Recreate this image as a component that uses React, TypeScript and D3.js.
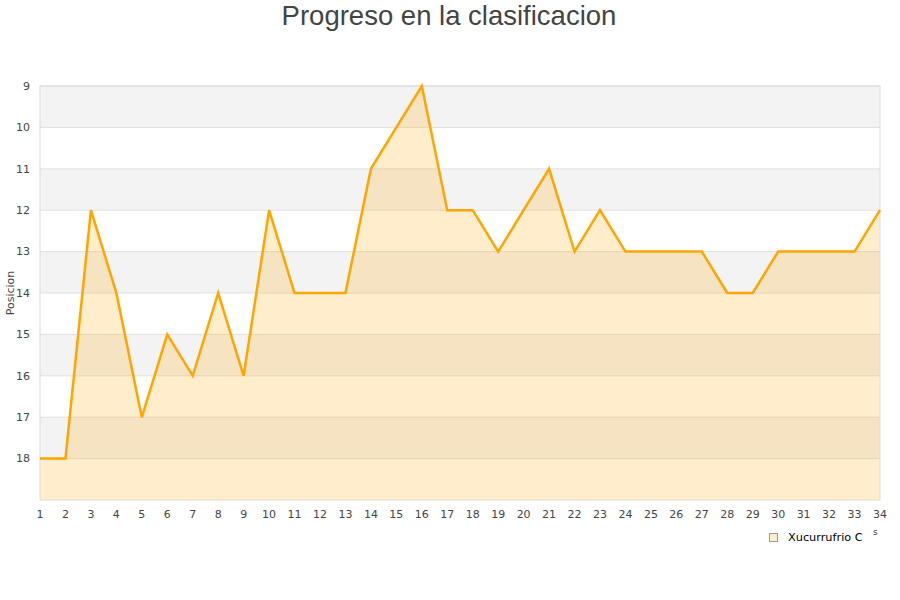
import React from "react";
import * as d3 from "d3";

const rounds = d3.range(1, 35);
const positions = [18, 18, 12, 14, 17, 15, 16, 14, 16, 12, 14, 14, 14, 11, 10, 9, 12, 12, 13, 12, 11, 13, 12, 13, 13, 13, 13, 14, 14, 13, 13, 13, 13, 12];
const yTicks = [9, 10, 11, 12, 13, 14, 15, 16, 17, 18];
const seriesName = "Xucurrufrio C";

const App = () => {
  const width = 900;
  const height = 600;
  const margin = { top: 86, right: 20, bottom: 100, left: 40 };
  const innerW = width - margin.left - margin.right;
  const innerH = height - margin.top - margin.bottom;

  const x = d3.scaleLinear().domain([1, 34]).range([0, innerW]);
  const y = d3.scaleLinear().domain([9, 19]).range([0, innerH]);

  const pts = rounds.map((r, i) => ({ r, p: positions[i] }));
  const line = d3.line<{ r: number; p: number }>().x(d => x(d.r)).y(d => y(d.p));
  const area = d3.area<{ r: number; p: number }>().x(d => x(d.r)).y0(innerH).y1(d => y(d.p));

  const bands = d3.range(9, 19);
  const font = "DejaVu Sans, sans-serif";

  return (
    <svg width={width} height={height} style={{ position: "absolute", left: 0, top: 0 }}>
      <rect width={width} height={height} fill="#fff" />
      <text x={449} y={25} textAnchor="middle" fontFamily="Liberation Sans, Arial, sans-serif" fontSize={27.5} fill="#444">
        Progreso en la clasificacion
      </text>
      <g transform={`translate(${margin.left},${margin.top})`}>
        {bands.map((b, i) => (
          <rect key={b} x={0} y={y(b)} width={innerW} height={y(b + 1) - y(b)} fill={i % 2 === 0 ? "#f3f3f3" : "#ffffff"} />
        ))}
        {yTicks.map(t => (
          <line key={t} x1={0} x2={innerW} y1={y(t)} y2={y(t)} stroke="#e0e0e0" />
        ))}
        <path d={area(pts) || ""} fill="#ffa500" fillOpacity={0.2} />
        <rect x={0} y={0} width={innerW} height={innerH} fill="none" stroke="#dcdcdc" />
        <path d={line(pts) || ""} fill="none" stroke="#ffa500" strokeWidth={2.5} />
        {yTicks.map(t => (
          <text key={t} x={-10} y={y(t)} dy="0.35em" textAnchor="end" fontFamily={font} fontSize={11} fill="#444">
            {t}
          </text>
        ))}
        {rounds.map(r => (
          <text key={r} x={x(r)} y={innerH + 18} textAnchor="middle" fontFamily={font} fontSize={11} fill="#444">
            {r}
          </text>
        ))}
        <text transform={`translate(${-26},${innerH / 2})rotate(-90)`} textAnchor="middle" fontFamily={font} fontSize={11} fill="#444">
          Posicion
        </text>
      </g>
      <rect x={769.5} y={533.5} width={8} height={8} fill="#ffeecc" stroke="#999" />
      <text x={788} y={541} fontFamily={font} fontSize={11.3} fill="#000">
        {seriesName}
      </text>
      <text x={873} y={535} fontFamily={font} fontSize={9} fill="#444">s</text>
    </svg>
  );
};

export default App;
